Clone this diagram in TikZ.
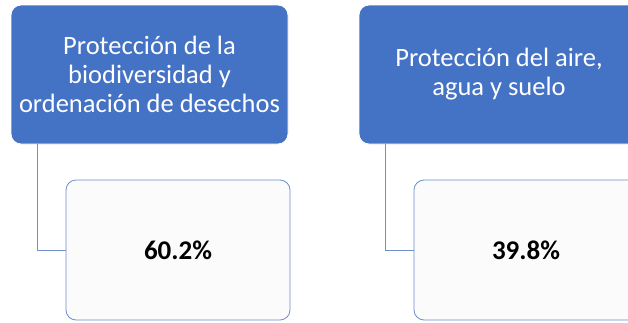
\documentclass[tikz,border=0pt]{standalone}
\usepackage{fontspec}
\setmainfont{Carlito}
\definecolor{officeblue}{HTML}{4472C4}
\definecolor{boxwhite}{HTML}{FBFBFB}
\definecolor{linkblue}{HTML}{6F8FCB}
\tikzset{
  headbox/.style={draw=white, line width=0.8pt, fill=officeblue, rounded corners=10pt, text=white, align=center,
    font=\fontsize{26.5}{29}\selectfont, inner sep=0pt},
  valbox/.style={draw=linkblue, line width=0.8pt, fill=boxwhite, rounded corners=10pt, text=black,
    font=\fontsize{27}{29}\selectfont\bfseries, inner sep=0pt},
  link/.style={draw=linkblue, line width=0.9pt}
}
\begin{document}
\begin{tikzpicture}[x=1pt,y=-1pt]
\useasboundingbox (0,0) rectangle (628,322);
\clip (0,0) rectangle (628,322);
\fill[white] (0,0) rectangle (628,322);
% left column
\node[headbox, minimum width=277pt, minimum height=139pt] (h1) at (149.5,74.5)
  {Protección de la\\biodiversidad y\\ordenación de desechos};
\node[valbox, minimum width=224pt, minimum height=140pt] (v1) at (178,250) {60.2\%};
\coordinate (c1) at ([xshift=27pt]h1.south west);
\draw[link] (c1) |- (v1.west);
% right column
\node[headbox, minimum width=280pt, minimum height=139pt] (h2) at (499,74.5)
  {Protección del aire,\\agua y suelo};
\node[valbox, minimum width=224pt, minimum height=140pt] (v2) at (526,250) {39.8\%};
\coordinate (c2) at ([xshift=27pt]h2.south west);
\draw[link] (c2) |- (v2.west);
\end{tikzpicture}
\end{document}
